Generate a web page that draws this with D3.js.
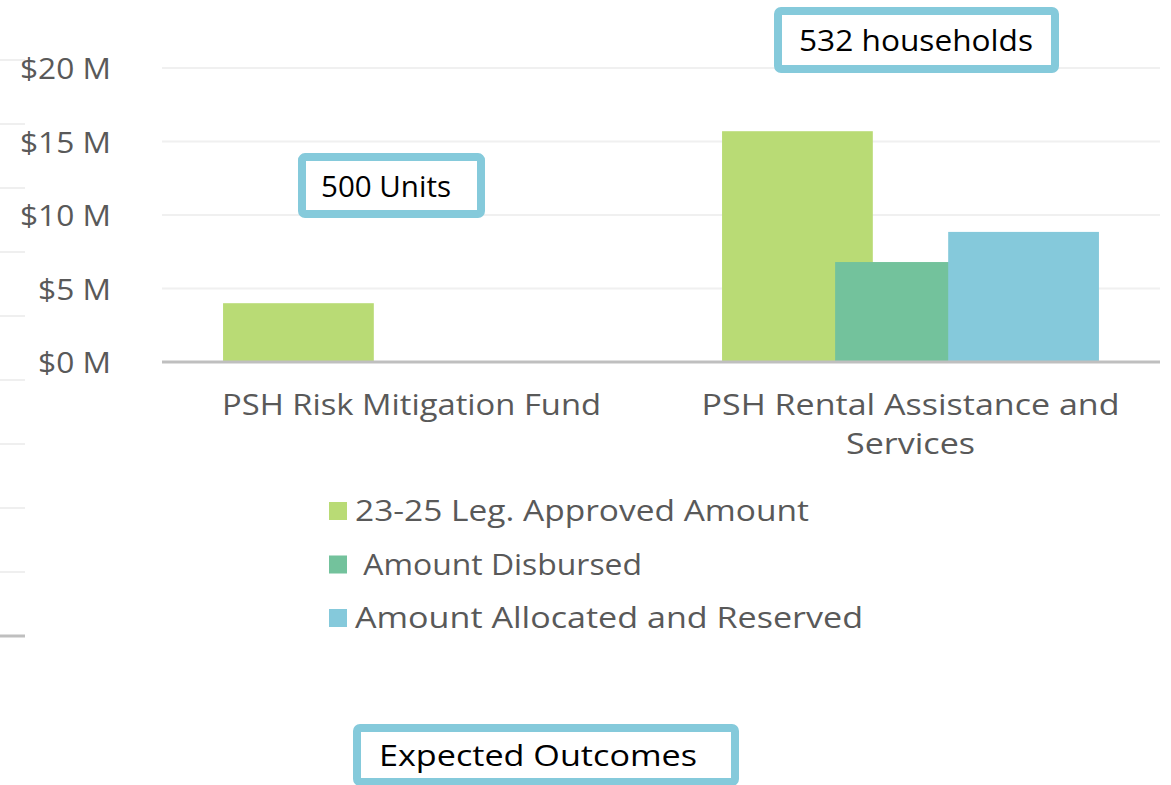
<!DOCTYPE html>
<html>
<head>
<meta charset="utf-8">
<script src="https://cdn.jsdelivr.net/npm/d3@7"></script>
<style>
  html, body { margin: 0; padding: 0; background: #fff; }
  svg { display: block; font-family: "Open Sans", "Lato", sans-serif; }
</style>
</head>
<body>
<svg id="chart" width="1171" height="785"></svg>
<script>
// values in $ millions
var categories = ["PSH Risk Mitigation Fund", "PSH Rental Assistance and Services"];
var seriesNames = ["23-25 Leg. Approved Amount", " Amount Disbursed", "Amount Allocated and Reserved"];
var approved = [4.0, 15.7];
var disbursed = [0, 6.8];
var allocated = [0, 8.85];
var yTicks = [0, 5, 10, 15, 20];
var callouts = ["500 Units", "532 households"];
var calloutLevels = [12, 21.9];
var footerLabel = "Expected Outcomes";
// gridline stubs of the neighbouring chart, cut off at the left edge
var stubTicks = [0, 1, 2, 3, 4, 5, 6, 7, 8, 9];

var colors = ["#b9db75", "#73c29c", "#85c9db"];
var boxColor = "#85cadb";

// rendered widths of the text in the original (its font is wider than ours)
var textWidths = {
    "$0 M": 73, "$5 M": 73, "$10 M": 91, "$15 M": 91, "$20 M": 91,
    "PSH Risk Mitigation Fund": 379, "PSH Rental Assistance and": 418, "Services": 129,
    "23-25 Leg. Approved Amount": 454, " Amount Disbursed": 287, "Amount Allocated and Reserved": 508,
    "500 Units": 130, "532 households": 234, "Expected Outcomes": 318
};
function fit(sel) {
    sel.attr("textLength", function(d) { return textWidths[d3.select(this).text()]; })
       .attr("lengthAdjust", "spacingAndGlyphs");
}

var svg = d3.select("#chart");

var x = d3.scaleBand().domain(categories).range([162, 1160]).paddingInner(0).paddingOuter(0);
var y = d3.scaleLinear().domain([0, 20]).range([362, 68]);

// Excel style: gap 81%, overlap 25%
var barW = x.bandwidth() / (2.5 + 0.81);
var offsets = [0, 0.75 * barW, 1.5 * barW];
var groupW = 2.5 * barW;

// left-edge remnants
var stubY = d3.scaleLinear().domain([0, 9]).range([636, 60]);
svg.append("g").selectAll("line")
    .data(stubTicks)
    .enter().append("line")
    .attr("x1", 0).attr("x2", 25)
    .attr("y1", function(d) { return stubY(d); })
    .attr("y2", function(d) { return stubY(d); })
    .attr("stroke", function(d) { return d == 0 ? "#bfbfbf" : "#efefef"; })
    .attr("stroke-width", function(d) { return d == 0 ? 3 : 2; });

// gridlines
svg.append("g").selectAll("line")
    .data(yTicks.filter(function(d) { return d > 0; }))
    .enter().append("line")
    .attr("x1", 162).attr("x2", 1160)
    .attr("y1", function(d) { return y(d); })
    .attr("y2", function(d) { return y(d); })
    .attr("stroke", "#f0f0f0")
    .attr("stroke-width", 2);

// y tick labels
svg.append("g").selectAll("text")
    .data(yTicks)
    .enter().append("text")
    .attr("x", 111)
    .attr("y", function(d) { return y(d) + 11; })
    .attr("text-anchor", "end")
    .attr("font-size", "29px")
    .attr("fill", "#595959")
    .text(function(d) { return "$" + d + " M"; })
    .call(fit);

// bars
var seriesData = [approved, disbursed, allocated];
seriesData.forEach(function(vals, s) {
    svg.append("g").selectAll("rect")
        .data(categories)
        .enter().append("rect")
        .attr("x", function(c) { return x(c) + x.bandwidth() / 2 - groupW / 2 + offsets[s]; })
        .attr("width", barW)
        .attr("y", function(c, i) { return y(vals[i]); })
        .attr("height", function(c, i) { return y(0) - y(vals[i]); })
        .attr("fill", colors[s]);
});

// baseline
svg.append("line")
    .attr("x1", 162).attr("x2", 1160)
    .attr("y1", y(0)).attr("y2", y(0))
    .attr("stroke", "#bfbfbf").attr("stroke-width", 3);

// category labels
var catLines = [["PSH Risk Mitigation Fund"], ["PSH Rental Assistance and", "Services"]];
categories.forEach(function(c, i) {
    svg.append("g").selectAll("text")
        .data(catLines[i])
        .enter().append("text")
        .attr("x", x(c) + x.bandwidth() / 2)
        .attr("y", function(line, j) { return 415 + j * 39; })
        .attr("text-anchor", "middle")
        .attr("font-size", "29px")
        .attr("fill", "#595959")
        .text(function(line) { return line; })
        .call(fit);
});

// legend
var legend = svg.append("g").selectAll("g")
    .data(seriesNames)
    .enter().append("g")
    .attr("transform", function(d, i) { return "translate(329," + (511 + i * 53.5) + ")"; });
legend.append("rect")
    .attr("x", 0).attr("y", -9)
    .attr("width", 18).attr("height", 18)
    .attr("fill", function(d, i) { return colors[i]; });
legend.append("text")
    .attr("x", 26).attr("y", 10)
    .attr("font-size", "29px")
    .attr("fill", "#595959")
    .attr("xml:space", "preserve")
    .style("white-space", "pre")
    .text(function(d) { return d; })
    .call(fit);

// callout boxes
function drawBox(cx, cy, w, h, label, textX) {
    var g = svg.append("g");
    g.append("rect")
        .attr("x", cx - w / 2 + 4).attr("y", cy - h / 2 + 4)
        .attr("width", w - 8).attr("height", h - 8)
        .attr("rx", 3)
        .attr("fill", "#fff")
        .attr("stroke", boxColor)
        .attr("stroke-width", 8);
    g.append("text")
        .attr("x", textX).attr("y", cy + 11)
        .attr("font-size", "29px")
        .attr("fill", "#000")
        .text(label)
        .call(fit);
}

drawBox(x(categories[0]) + x.bandwidth() / 2 - 20, y(calloutLevels[0]), 187, 65, callouts[0], 321);
drawBox(x(categories[1]) + x.bandwidth() / 2 + 6, y(calloutLevels[1]), 285, 66, callouts[1], 799);
drawBox(546, 755, 386, 62, footerLabel, 379);
</script>
</body>
</html>
